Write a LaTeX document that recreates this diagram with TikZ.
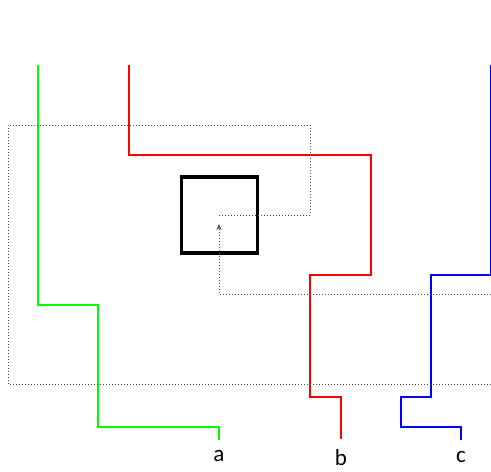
\documentclass[tikz,border=0pt]{standalone}
\usepackage{fontspec}
\setmainfont{Carlito}
\usetikzlibrary{arrows.meta}
\begin{document}
\begin{tikzpicture}[x=1pt,y=-1pt,
  wire/.style={line width=2pt},
  dots/.style={dash pattern=on 1pt off 2pt, line width=1pt, black!70},
  lbl/.style={font=\fontsize{23}{23}\selectfont, inner sep=0pt}]
\useasboundingbox (0,0) rectangle (491,472);
% box
\node[draw, line width=3.2pt, minimum size=76pt, inner sep=0pt] (box) at (219.5,215) {};
\coordinate (bc) at (219,215);
\coordinate (tip) at (219,224);
% labels
\node[lbl] (la) at (219,456) {a};
\node[lbl] (lb) at (341,458) {b};
\node[lbl] (lc) at (461,457) {c};
% green
\coordinate (g0) at (38,65);
\draw[wire, green] (g0) |- (98,305) |- (219,427) -- (219,440);
% red
\coordinate (r0) at (129,65);
\draw[wire, red] (r0) |- (371,155) |- (310,275) |- (341,397) -- (341,439);
% blue
\coordinate (b0) at (490.8,65);
\draw[wire, blue] (b0) |- (431,275) |- (401,397) |- (461,427) -- (461,440);
% dotted loops
\draw[dots] (bc) -| (310,125) -| (8,384) -- (491,384);
\draw[dots, -{Stealth[length=6pt,width=5pt]}] (491,294) -| (tip);
\end{tikzpicture}
\end{document}
